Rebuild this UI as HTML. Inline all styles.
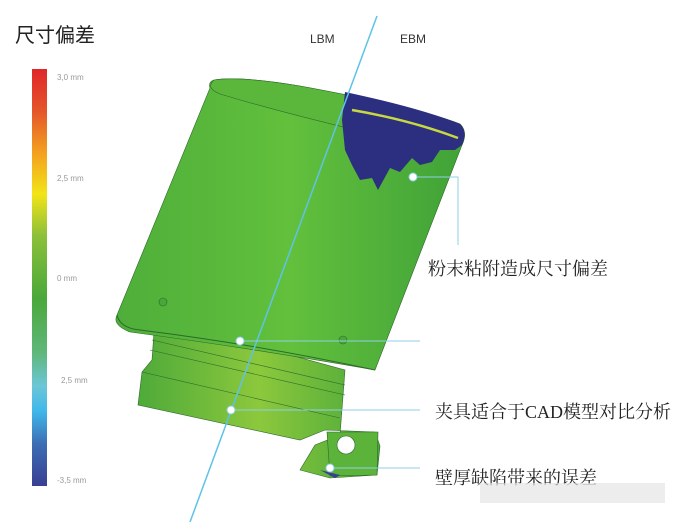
<!DOCTYPE html>
<html><head><meta charset="utf-8"><style>
html,body{margin:0;padding:0;background:#fff;}
svg{display:block;}
</style></head><body>
<svg width="681" height="522" viewBox="0 0 681 522" xmlns="http://www.w3.org/2000/svg">
<defs>
<linearGradient id="cb" x1="0" y1="0" x2="0" y2="1">
<stop offset="0" stop-color="#e0262a"/>
<stop offset="0.1" stop-color="#e4552a"/>
<stop offset="0.2" stop-color="#f3a020"/>
<stop offset="0.3" stop-color="#f2e417"/>
<stop offset="0.4" stop-color="#8cc03a"/>
<stop offset="0.55" stop-color="#4aa83a"/>
<stop offset="0.68" stop-color="#5fb77a"/>
<stop offset="0.76" stop-color="#6cc6d6"/>
<stop offset="0.82" stop-color="#3fb8ea"/>
<stop offset="0.9" stop-color="#3c6db3"/>
<stop offset="1" stop-color="#3a3f92"/>
</linearGradient>
<linearGradient id="body" x1="0" y1="0" x2="1" y2="0">
<stop offset="0" stop-color="#4eae3a"/>
<stop offset="0.5" stop-color="#62c03c"/>
<stop offset="1" stop-color="#40a238"/>
</linearGradient>
<linearGradient id="low" x1="0" y1="0" x2="1" y2="0">
<stop offset="0" stop-color="#4eaa3a"/>
<stop offset="0.5" stop-color="#8cc83c"/>
<stop offset="1" stop-color="#4aa83a"/>
</linearGradient>
</defs>
<text x="15" y="42" font-family="Liberation Sans,'Noto Sans CJK SC',sans-serif" font-size="20" fill="#222">尺寸偏差</text>
<rect x="32" y="69" width="15" height="417" fill="url(#cb)"/>
<g font-family="Liberation Sans,sans-serif" font-size="8" fill="#999">
<text x="57" y="80">3,0 mm</text>
<text x="57" y="181">2,5 mm</text>
<text x="57" y="281">0 mm</text>
<text x="61" y="383">2,5 mm</text>
<text x="57" y="483">-3,5 mm</text>
</g>
<path d="M155,318 L152,360 L142,372 L138,405 L300,440 L325,430 L375,432 L380,446 L377,475 L330,478 L300,470 L315,445 L340,435 L345,370 Z" fill="url(#low)" stroke="#2d6a2a" stroke-width="0.6"/>
<path d="M327,432 L378,432 L377,475 L330,476 Z" fill="#5cb33a" stroke="#2d6a2a" stroke-width="0.6"/>
<circle cx="346" cy="445" r="9" fill="#fff" stroke="#2d6a2a" stroke-width="0.6"/>
<path d="M152,340 L345,385 M150,350 L345,395 M142,372 L340,418" stroke="#2d6a2a" stroke-width="0.6" fill="none"/>
<path d="M178,320 L255,330 L250,340 L180,328 Z" fill="#a8201c"/>
<path d="M320,470 L340,475 L335,478 Z" fill="#3a3f92"/>
<path d="M214,80 Q240,76 300,86 Q420,108 460,124 Q468,132 462,145 L375,370 Q250,348 130,332 Q112,325 117,315 L210,88 Q208,82 214,80 Z" fill="url(#body)" stroke="#2d6a2a" stroke-width="0.6"/>
<path d="M214,80 Q240,76 300,86 Q420,108 460,124 Q468,132 462,145 Q440,150 400,140 Q300,118 220,94 Q205,88 214,80 Z" fill="#5ab73c" stroke="#2d6a2a" stroke-width="0.6"/>
<path d="M345,92 Q420,108 460,124 Q468,132 462,145 L455,150 L440,150 L432,162 L420,165 L412,158 L400,172 L390,168 L378,190 L372,178 L360,180 L352,165 L345,150 L342,120 Z" fill="#2c2e80"/>
<path d="M352,110 Q410,120 458,138" stroke="#c8d840" stroke-width="2.5" fill="none"/>
<path d="M117,315 Q120,328 140,330 Q260,345 375,370" stroke="#2d6a2a" stroke-width="1" fill="none"/>
<circle cx="163" cy="302" r="4" fill="#4aa83a" stroke="#2d6a2a" stroke-width="0.6"/>
<circle cx="343" cy="340" r="4" fill="#4aa83a" stroke="#2d6a2a" stroke-width="0.6"/>
<line x1="377" y1="16" x2="190" y2="522" stroke="#5ec3e6" stroke-width="1.5"/>
<g font-family="Liberation Sans,sans-serif" font-size="12" fill="#333">
<text x="310" y="43">LBM</text>
<text x="400" y="43">EBM</text>
</g>
<g stroke="#8fd0e6" stroke-width="1" fill="none">
<path d="M413,177 L458,177 L458,245"/>
<path d="M240,341 L420,341"/>
<path d="M231,410 L420,410"/>
<path d="M330,468 L420,468"/>
</g>
<g fill="#fff" stroke="#8fd0e6" stroke-width="1">
<circle cx="413" cy="177" r="4"/>
<circle cx="240" cy="341" r="4"/>
<circle cx="231" cy="410" r="4"/>
<circle cx="330" cy="468" r="4"/>
</g>
<g font-family="Liberation Serif,'Noto Serif CJK SC',serif" font-size="18" fill="#222">
<text x="428" y="275">粉末粘附造成尺寸偏差</text>
<text x="435" y="418">夹具适合于CAD模型对比分析</text>
<text x="435" y="484">壁厚缺陷带来的误差</text>
</g>
<rect x="480" y="483" width="185" height="20" fill="#e6e6e6" opacity="0.7"/>
</svg>
</body></html>
